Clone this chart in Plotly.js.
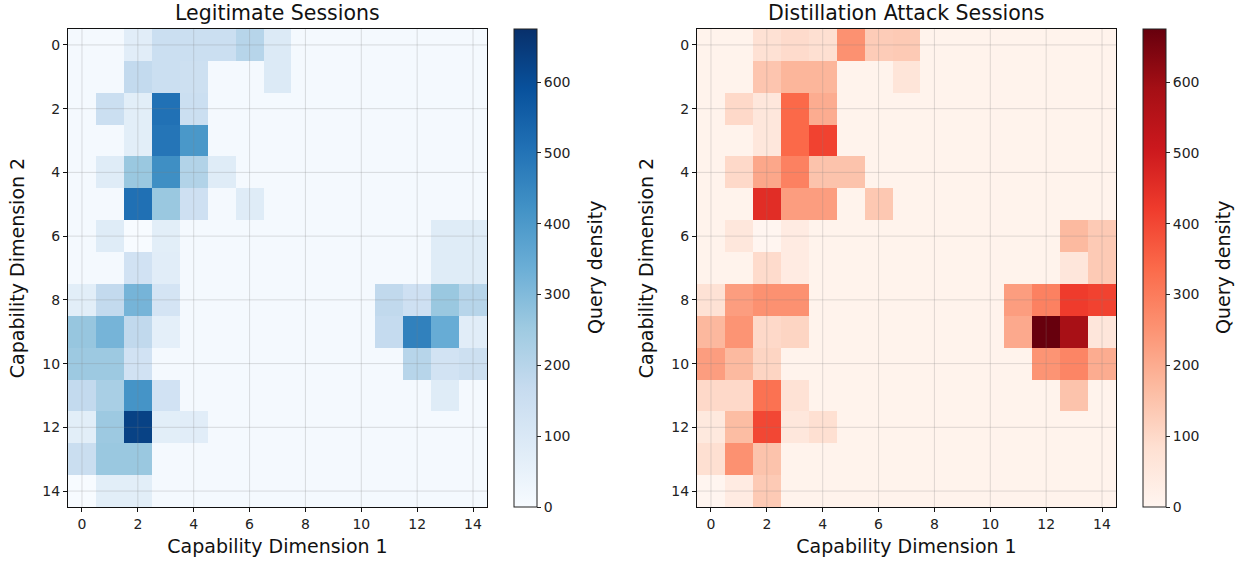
<!DOCTYPE html>
<html>
<head>
<meta charset="utf-8">
<script src="https://cdn.plot.ly/plotly-3.0.1.min.js"></script>
<style>html,body{margin:0;padding:0;background:#fff;}#chart{width:1243px;height:565px;}</style>
</head>
<body>
<div id="chart"></div>
<script>
const dims = [0,1,2,3,4,5,6,7,8,9,10,11,12,13,14];
const tickVals = [0,2,4,6,8,10,12,14];

const legitimate = [
  [10,10,75,150,150,150,200,90,10,10,10,10,10,10,10],
  [10,10,175,150,145,10,10,90,10,10,10,10,10,10,10],
  [10,150,70,505,150,10,10,10,10,10,10,10,10,10,10],
  [10,10,70,495,405,10,10,10,10,10,10,10,10,10,10],
  [10,80,260,430,210,80,10,10,10,10,10,10,10,10,10],
  [10,10,510,260,140,10,80,10,10,10,10,10,10,10,10],
  [10,80,0,70,10,10,10,10,10,10,10,10,10,80,80],
  [10,10,130,75,10,10,10,10,10,10,10,10,10,80,80],
  [70,175,320,120,10,10,10,10,10,10,10,180,140,260,200],
  [265,320,180,65,10,10,10,10,10,10,10,170,465,345,75],
  [255,255,130,10,10,10,10,10,10,10,10,10,200,125,145],
  [175,230,415,130,10,10,10,10,10,10,10,10,10,80,10],
  [70,255,630,70,75,10,10,10,10,10,10,10,10,10,10],
  [155,260,260,10,10,10,10,10,10,10,10,10,10,10,10],
  [0,70,70,10,10,10,10,10,10,10,10,10,10,10,10]
];

const attack = [
  [10,10,80,95,85,255,130,135,10,10,10,10,10,10,10],
  [10,10,145,180,180,10,10,65,10,10,10,10,10,10,10],
  [10,100,55,340,200,10,10,10,10,10,10,10,10,10,10],
  [10,10,55,340,410,10,10,10,10,10,10,10,10,10,10],
  [10,100,210,290,150,150,10,10,10,10,10,10,10,10,10],
  [10,10,455,230,230,10,140,10,10,10,10,10,10,10,10],
  [10,55,0,40,10,10,10,10,10,10,10,10,10,170,135],
  [10,10,95,40,10,10,10,10,10,10,10,10,10,60,135],
  [75,230,255,255,10,10,10,10,10,10,10,230,290,422,410],
  [175,250,100,110,10,10,10,10,10,10,10,205,675,585,60],
  [230,170,110,10,10,10,10,10,10,10,10,10,250,280,200],
  [100,100,320,75,10,10,10,10,10,10,10,10,10,150,10],
  [50,165,400,55,85,10,10,10,10,10,10,10,10,10,10],
  [85,255,150,10,10,10,10,10,10,10,10,10,10,10,10],
  [0,40,135,10,10,10,10,10,10,10,10,10,10,10,10]
];

const blues = ['#f7fbff','#deebf7','#c6dbef','#9ecae1','#6baed6','#4292c6','#2171b5','#08519c','#08306b'];
const reds  = ['#fff5f0','#fee0d2','#fcbba1','#fc9272','#fb6a4a','#ef3b2c','#cb181d','#a50f15','#67000d'];
const toScale = c => c.map((col,i)=>[i/(c.length-1), col]);

const FONT = 'DejaVu Sans, Liberation Sans, sans-serif';
const zmax = 675;

const cbCommon = {
  thickness: 23, thicknessmode: 'pixels',
  len: 478/565, lenmode: 'fraction',
  y: 58/565, yanchor: 'bottom',
  xanchor: 'left', xpad: 0, ypad: 0,
  outlinecolor: '#222', outlinewidth: 1,
  tickmode: 'array', tickvals: [0,100,200,300,400,500,600],
  ticks: 'outside', ticklen: 4, tickcolor: '#222',
  tickfont: {family: FONT, size: 14, color: '#222'}
};

const traces = [
  {
    type: 'heatmap', x: dims, y: dims, z: legitimate,
    colorscale: toScale(blues), zmin: 0, zmax: zmax,
    xaxis: 'x', yaxis: 'y',
    colorbar: Object.assign({}, cbCommon, {x: 514/1243})
  },
  {
    type: 'heatmap', x: dims, y: dims, z: attack,
    colorscale: toScale(reds), zmin: 0, zmax: zmax,
    xaxis: 'x2', yaxis: 'y2',
    colorbar: Object.assign({}, cbCommon, {x: 1143/1243})
  }
];

function axis(domain, anchor, title, isY) {
  return {
    domain: domain, anchor: anchor,
    range: isY ? [14.5, -0.5] : [-0.5, 14.5],
    tickmode: 'array', tickvals: tickVals, ticktext: tickVals.map(String),
    ticks: 'outside', ticklen: 4, tickcolor: '#111',
    showline: true, linecolor: '#111', linewidth: 1, mirror: true,
    showgrid: false, zeroline: false,
    tickfont: {family: FONT, size: 14, color: '#222'},
    title: {text: title, font: {family: FONT, size: 19, color: '#111'}, standoff: isY ? 12 : 8}
  };
}

const yDom = [58/565, 536/565];
const titleFont = {family: FONT, size: 20.5, color: '#111'};
const cbTitleFont = {family: FONT, size: 19, color: '#111'};
const layout = {
  width: 1243, height: 565,
  margin: {l: 0, r: 0, t: 0, b: 0},
  paper_bgcolor: '#fff', plot_bgcolor: '#fff',
  showlegend: false,
  xaxis: axis([68/1243, 487/1243], 'y', 'Capability Dimension 1', false),
  yaxis: axis(yDom, 'x', 'Capability Dimension 2', true),
  xaxis2: axis([697/1243, 1116/1243], 'y2', 'Capability Dimension 1', false),
  yaxis2: axis(yDom, 'x2', 'Capability Dimension 2', true),
  annotations: [
    {text: 'Legitimate Sessions', xref: 'x domain', yref: 'paper', x: 0.5, y: 1 - 13/565, yanchor: 'middle', xanchor: 'center', showarrow: false, font: titleFont},
    {text: 'Distillation Attack Sessions', xref: 'x2 domain', yref: 'paper', x: 0.5, y: 1 - 13/565, yanchor: 'middle', xanchor: 'center', showarrow: false, font: titleFont},
    {text: 'Query density', xref: 'paper', yref: 'paper', x: 595/1243, y: 0.5 + (58/565 + 536/565 - 1)/2, textangle: -90, xanchor: 'center', yanchor: 'middle', showarrow: false, font: cbTitleFont},
    {text: 'Query density', xref: 'paper', yref: 'paper', x: 1223/1243, y: 0.5 + (58/565 + 536/565 - 1)/2, textangle: -90, xanchor: 'center', yanchor: 'middle', showarrow: false, font: cbTitleFont}
  ],
  shapes: []
};

// grid lines drawn over the heatmaps at tick positions
[['x','y'],['x2','y2']].forEach(([xa, ya]) => {
  tickVals.forEach(v => {
    layout.shapes.push({type: 'line', layer: 'above', xref: xa, yref: ya + ' domain', x0: v, x1: v, y0: 0, y1: 1, line: {color: 'rgba(128,128,128,0.25)', width: 1}});
    layout.shapes.push({type: 'line', layer: 'above', xref: xa + ' domain', yref: ya, x0: 0, x1: 1, y0: v, y1: v, line: {color: 'rgba(128,128,128,0.25)', width: 1}});
  });
});

Plotly.newPlot('chart', traces, layout, {displayModeBar: false, staticPlot: true});
</script>
</body>
</html>
